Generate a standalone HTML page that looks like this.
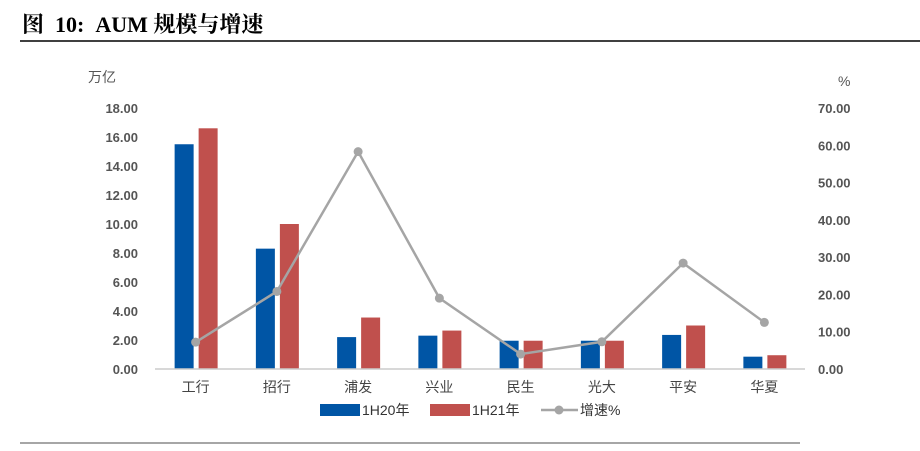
<!DOCTYPE html>
<html><head><meta charset="utf-8"><style>
body{margin:0;background:#fff;width:920px;height:446px;overflow:hidden;font-family:"Liberation Sans","Noto Sans CJK SC",sans-serif}
</style></head><body>
<svg width="920" height="446" id="c">
<text x="22" y="32" font-size="22" font-weight="bold" font-family="Liberation Serif,Noto Serif CJK SC,serif" fill="#000" style="white-space:pre" xml:space="preserve">图  10:  AUM 规模与增速</text>
<line x1="20" y1="41" x2="920" y2="41" stroke="#000" stroke-width="1.5"/>
<line x1="20" y1="443" x2="800" y2="443" stroke="#888" stroke-width="1.5"/>
<text x="88" y="82" font-size="14" fill="#555">万亿</text>
<text x="838" y="86" font-size="14" fill="#555">%</text>
<g id="g"></g>
</svg>
<script>
const categories=["工行","招行","浦发","兴业","民生","光大","平安","华夏"];
const aum1H20=[15.5,8.3,2.2,2.3,1.95,1.95,2.35,0.85];
const aum1H21=[16.6,10.0,3.55,2.65,1.95,1.95,3.0,0.95];
const growth=[7.2,20.8,58.3,19.0,4.0,7.3,28.4,12.5];
const leftTicks=[0,2,4,6,8,10,12,14,16,18];
const rightTicks=[0,10,20,30,40,50,60,70];
const NS="http://www.w3.org/2000/svg",g=document.getElementById('g');
const x0=155,x1=805,yb=369,yt=108;
const yL=v=>yb-(v/18)*(yb-yt), yR=v=>yb-(v/70)*(yb-yt);
const bw=(x1-x0)/categories.length, cx=i=>x0+bw*(i+0.5);
function mk(t,a){const e=document.createElementNS(NS,t);for(const k in a)e.setAttribute(k,a[k]);g.appendChild(e);return e;}
leftTicks.forEach(v=>{const t=mk('text',{x:138,y:yL(v)+5,'text-anchor':'end','font-size':13,'font-weight':'bold',fill:'#555'});t.textContent=v.toFixed(2);

});
rightTicks.forEach(v=>{const t=mk('text',{x:818,y:yR(v)+5,'font-size':13,'font-weight':'bold',fill:'#555'});t.textContent=v.toFixed(2);

});
categories.forEach((c,i)=>{
const b1=mk('rect',{x:cx(i)-21,y:yL(aum1H20[i]),width:19,height:yb-yL(aum1H20[i]),fill:'#0055a5'});


const b2=mk('rect',{x:cx(i)+3,y:yL(aum1H21[i]),width:19,height:yb-yL(aum1H21[i]),fill:'#c0504d'});


const t=mk('text',{x:cx(i),y:392,'text-anchor':'middle','font-size':14,fill:'#444'});t.textContent=c;


});
const ax=mk('line',{x1:x0,y1:yb,x2:x1,y2:yb,stroke:'#ccc','stroke-width':1.5});


const pl=mk('polyline',{points:growth.map((v,i)=>cx(i)+','+yR(v)).join(' '),fill:'none',stroke:'#a5a5a5','stroke-width':2.5});


growth.forEach((v,i)=>{const p=mk('circle',{cx:cx(i),cy:yR(v),r:4.5,fill:'#a5a5a5'});

});
const l1=mk('rect',{x:320,y:404,width:40,height:12,fill:'#0055a5'});


let t=mk('text',{x:362,y:415,'font-size':14,fill:'#333'});t.textContent='1H20年';


const l2=mk('rect',{x:430,y:404,width:40,height:12,fill:'#c0504d'});


t=mk('text',{x:472,y:415,'font-size':14,fill:'#333'});t.textContent='1H21年';


const l3=mk('line',{x1:541,y1:410,x2:578,y2:410,stroke:'#a5a5a5','stroke-width':2.5});


const l4=mk('circle',{cx:559,cy:410,r:4.5,fill:'#a5a5a5'});


t=mk('text',{x:580,y:415,'font-size':14,fill:'#333'});t.textContent='增速%';


</script>
</body></html>
